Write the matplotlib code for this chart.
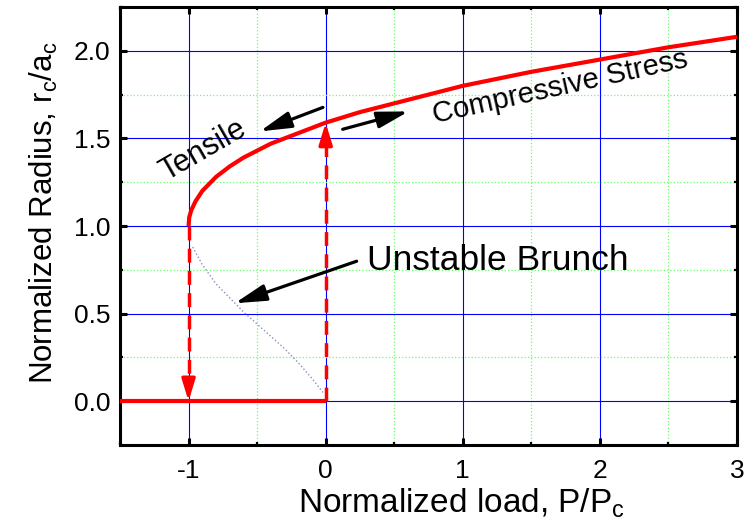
import matplotlib
matplotlib.use("Agg")
import matplotlib.pyplot as plt
from matplotlib.ticker import MultipleLocator, FixedLocator

plt.rcParams['font.family'] = ['Liberation Sans', 'DejaVu Sans']
plt.rcParams['mathtext.fontset'] = 'custom'
plt.rcParams['mathtext.rm'] = 'Liberation Sans'
plt.rcParams['mathtext.it'] = 'Liberation Sans:italic'
plt.rcParams['axes.unicode_minus'] = False

# Stable branch
stable_x = [-1.0, -0.995, -0.98, -0.95, -0.9, -0.8, -0.7, -0.6, -0.5, -0.4, -0.3,
            -0.2, -0.1, 0.0, 0.25, 0.5, 0.75, 1.0, 1.5, 2.0, 2.5, 3.0]
stable_y = [1.00, 1.05, 1.09, 1.14, 1.20, 1.28, 1.34, 1.39, 1.43, 1.47, 1.50,
            1.53, 1.56, 1.59, 1.65, 1.70, 1.75, 1.80, 1.88, 1.95, 2.02, 2.08]

# Unstable branch (dotted)
unstable_x = [-0.97, -0.9, -0.8, -0.7, -0.6, -0.5, -0.4, -0.3, -0.2, -0.1, -0.02]
unstable_y = [0.88, 0.78, 0.67, 0.59, 0.51, 0.44, 0.37, 0.30, 0.22, 0.13, 0.05]

# Zero-contact segment
zero_x = [-1.5, 0.0]
zero_y = [0.0, 0.0]

# Jump lines
pulloff_x = [-1.0, -1.0]
pulloff_y = [1.00, 0.0]
jumpin_x = [0.0, 0.0]
jumpin_y = [0.0, 1.59]

x_ticks = [-1, 0, 1, 2, 3]
y_ticks = [0.0, 0.5, 1.0, 1.5, 2.0]
y_ticklabels = ["0.0", "0.5", "1.0", "1.5", "2.0"]

fig = plt.figure(figsize=(7.44, 5.28), dpi=100)
ax = fig.add_axes([120/744, 1-445/528, 617/744, 438/528])

ax.set_xlim(-1.5, 3)
ax.set_ylim(-0.25, 2.25)

ax.xaxis.set_major_locator(FixedLocator(x_ticks))
ax.xaxis.set_minor_locator(MultipleLocator(0.5))
ax.set_yticks(y_ticks)
ax.set_yticklabels(y_ticklabels)
ax.yaxis.set_minor_locator(MultipleLocator(0.25))

ax.grid(which='major', color='#0000ff', linestyle='-', linewidth=0.8, zorder=0)
ax.grid(which='minor', color='#66ff66', linestyle=':', linewidth=0.9, zorder=0)
ax.set_axisbelow(True)

# curves
ax.plot(unstable_x, unstable_y, linestyle=':', color='#8c8cc0', linewidth=1.0, zorder=2)
ax.plot(stable_x, stable_y, color='#ff0000', linewidth=3.0, zorder=4, solid_capstyle='butt')
ax.plot(zero_x, zero_y, color='#ff0000', linewidth=3.0, zorder=4, solid_capstyle='butt')

ax.plot(pulloff_x, [pulloff_y[0], pulloff_y[1] + 0.1], color='#ff0000', linewidth=2.5,
        linestyle=(0, (4, 2.4)), zorder=3)
ax.plot(jumpin_x, [jumpin_y[0], jumpin_y[1] - 0.1], color='#ff0000', linewidth=2.5,
        linestyle=(0, (4, 2.4)), zorder=3)

head = dict(arrowstyle='-|>,head_length=1.3,head_width=0.4', color='#ff0000',
            lw=2.5, mutation_scale=10, shrinkA=0, shrinkB=0)
ax.annotate('', xy=(pulloff_x[1], pulloff_y[1]), xytext=(pulloff_x[1], pulloff_y[1] + 0.12),
            arrowprops=head, zorder=5)
ax.annotate('', xy=(jumpin_x[1], jumpin_y[1]), xytext=(jumpin_x[1], jumpin_y[1] - 0.12),
            arrowprops=head, zorder=5)

# annotation arrows
black = dict(arrowstyle='-|>,head_length=1.9,head_width=0.5', color='black',
             lw=2.3, mutation_scale=10, shrinkA=0, shrinkB=0)
ax.annotate('', xy=(-0.48, 1.54), xytext=(-0.02, 1.677), arrowprops=black)
ax.annotate('', xy=(0.605, 1.654), xytext=(0.124, 1.552), arrowprops=black)
ax.annotate('', xy=(-0.663, 0.559), xytext=(0.226, 0.799), arrowprops=black)

ax.text(-0.889, 1.432, 'Tensile', fontsize=22, rotation=30, ha='center', va='center',
        rotation_mode='anchor')
ax.text(1.71, 1.79, 'Compressive Stress', fontsize=21, rotation=12.5, ha='center',
        va='center', rotation_mode='anchor')
ax.text(0.30, 0.747, 'Unstable Brunch', fontsize=25.5, ha='left', va='baseline')

ax.set_xlabel(r'Normalized load, P/P$_\mathrm{c}$', fontsize=24, x=0.554, labelpad=3)
ax.set_ylabel(r'Normalized Radius, r$_\mathrm{c}$/a$_\mathrm{c}$', fontsize=22.5, y=0.53,
              labelpad=10)

for s in ax.spines.values():
    s.set_linewidth(2.2)
ax.tick_params(which='major', direction='in', length=5, width=2.2, top=True, right=True,
               labelsize=19)
ax.tick_params(which='minor', direction='in', length=2.5, width=1.6, top=True, right=True)
ax.tick_params(axis='x', which='major', pad=10)
ax.tick_params(axis='y', which='major', pad=7)

fig.savefig('out.png', dpi=100)
